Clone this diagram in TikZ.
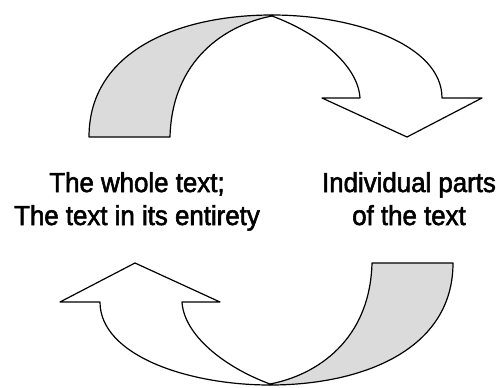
\documentclass[tikz,border=0pt]{standalone}
\usepackage{fontspec}
\setmainfont{Liberation Sans}
\newfontfamily\lblfont[FakeStretch=0.94,FakeBold=2]{Liberation Sans}
\begin{document}
\begin{tikzpicture}[x=1pt,y=-1pt,
  band/.style={draw=black, line width=1.2pt, line join=round},
  grayband/.style={band, fill=black!14},
  whiteband/.style={band, fill=white},
  lbl/.style={font=\lblfont\fontsize{27.5}{33}\selectfont, anchor=base, inner sep=0pt}]
\useasboundingbox (0,0) rectangle (501,388);
\fill[white] (0,0) rectangle (501,388);
% top arrow
\begin{scope}
  \filldraw[whiteband] (272,16) .. controls (318,33) and (358,65) .. (360,98)
    -- (322,98) -- (407,137) -- (482,98) -- (442,98)
    .. controls (442,45) and (355,15) .. (272,15) -- cycle;
  \filldraw[grayband] (89,137) -- (170,137)
    .. controls (172,60) and (225,25) .. (272,16)
    -- (272,15) .. controls (180,15) and (89,50) .. (89,137) -- cycle;
\end{scope}
% bottom arrow
\begin{scope}[rotate around={180:(271,200)}]
  \filldraw[whiteband] (272,16) .. controls (318,33) and (358,65) .. (360,98)
    -- (322,98) -- (407,137) -- (482,98) -- (442,98)
    .. controls (442,45) and (355,15) .. (272,15) -- cycle;
  \filldraw[grayband] (89,137) -- (170,137)
    .. controls (172,60) and (225,25) .. (272,16)
    -- (272,15) .. controls (180,15) and (89,50) .. (89,137) -- cycle;
\end{scope}
\node[lbl] (l1) at (137,192) {The whole text;};
\node[lbl] (l2) at (137,225) {The text in its entirety};
\node[lbl] (r1) at (409,192) {Individual parts};
\node[lbl] (r2) at (409,225) {of the text};
\end{tikzpicture}
\end{document}
